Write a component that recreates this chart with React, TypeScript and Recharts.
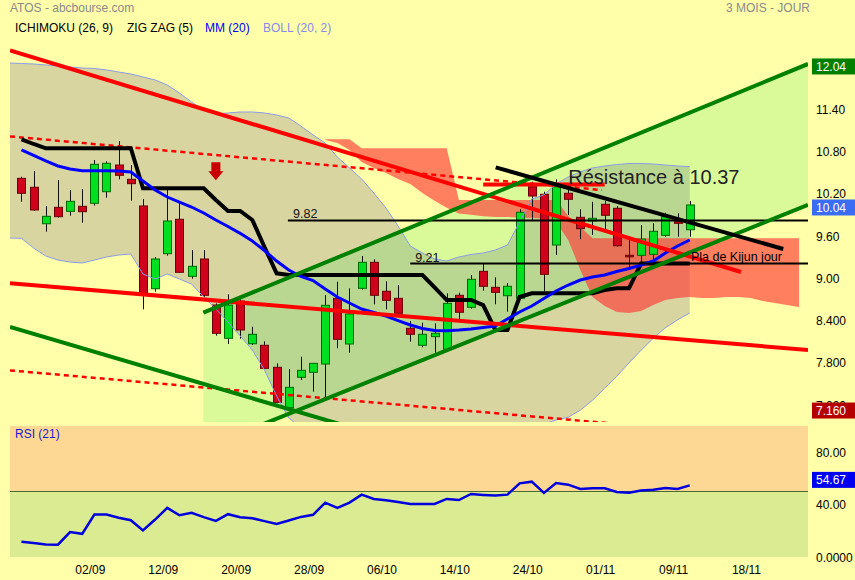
import React from 'react';
import {
  ComposedChart,
  Bar,
  Line,
  Area,
  XAxis,
  YAxis,
  ReferenceLine,
  ReferenceDot,
  ReferenceArea,
} from 'recharts';

const FONT = '"Liberation Sans", Arial, sans-serif';
const BG = '#FFFFAA';

// daily candles, index 0 = 25/08
const OPEN = [
  10.418, 10.291, 9.774, 10.007, 9.95, 10.021, 10.064, 10.228, 10.607, 10.404,
  10.026, 8.852, 9.349, 9.837, 9.028, 9.274, 8.621, 8.149, 8.678, 8.072,
  8.05, 7.738, 7.165, 7.596, 7.667, 7.784, 8.716, 8.068, 8.858, 9.227,
  8.816, 8.716, 8.291, 8.05, 8.172, 7.993, 8.759, 8.589, 9.099, 8.872,
  8.753, 8.716, 10.299, 10.191, 9.472, 10.206, 9.865, 9.813, 10.05, 9.993,
  9.326, 9.326, 9.34, 9.61, 9.803, 9.689,
];
const CLOSE = [
  10.206, 9.969, 9.879, 9.874, 10.092, 9.945, 10.617, 10.631, 10.461, 10.342,
  8.787, 9.274, 9.813, 9.085, 9.17, 8.759, 8.22, 8.621, 8.267, 8.206,
  7.723, 7.241, 7.454, 7.695, 7.794, 8.617, 8.135, 8.494, 9.227, 8.759,
  8.688, 8.504, 8.206, 8.206, 8.22, 8.645, 8.518, 8.986, 8.887, 8.801,
  8.887, 9.936, 10.167, 9.057, 10.299, 10.121, 9.704, 9.851, 9.894, 9.462,
  9.306, 9.557, 9.667, 9.874, 9.78, 10.04,
];
const HIGH = [
  10.441, 10.522, 10.026, 10.394, 10.252, 10.267, 10.678, 10.66, 10.947, 10.607,
  10.125, 9.302, 10.252, 10.072, 9.401, 9.401, 8.645, 8.773, 8.702, 8.313,
  8.106, 7.794, 7.713, 7.888, 7.8, 8.763, 8.952, 8.858, 9.316, 9.269,
  8.957, 8.905, 8.394, 8.37, 8.362, 8.787, 8.796, 9.047, 9.213, 9.014,
  8.933, 9.98, 10.37, 10.228, 10.404, 10.262, 9.979, 10.086, 10.096, 10.026,
  9.543, 9.756, 9.78, 9.93, 9.922, 10.096,
];
const LOW = [
  10.086, 9.955, 9.661, 9.86, 9.888, 9.789, 10.03, 10.143, 10.404, 10.101,
  8.56, 8.81, 9.321, 9.08, 8.994, 8.739, 8.186, 8.068, 8.143, 8.054,
  7.72, 7.227, 7.132, 7.557, 7.392, 7.298, 8.007, 7.945, 8.84, 8.631,
  8.56, 8.479, 8.101, 8.021, 7.945, 7.98, 8.409, 8.57, 8.824, 8.631,
  8.526, 8.7, 9.827, 8.81, 9.33, 9.898, 9.553, 9.614, 9.685, 9.45,
  9.118, 9.213, 9.213, 9.59, 9.59, 9.59,
];

const KIJUN = [
  10.972, 10.905, 10.844, 10.844, 10.844, 10.844, 10.844, 10.844, 10.844, 10.844,
  10.277, 10.277, 10.277, 10.277, 10.277, 10.277, 10.111, 9.955, 9.955, 9.827,
  9.444, 9.071, 9.047, 9.047, 9.047, 9.047, 9.047, 9.047, 9.047, 9.047,
  9.047, 9.047, 9.047, 9.047, 8.87, 8.692, 8.692, 8.692, 8.621, 8.267,
  8.267, 8.735, 8.787, 8.787, 8.787, 8.787, 8.787, 8.787, 8.834, 8.858,
  8.858, 9.21, 9.21, 9.21, 9.21, 9.21,
];
const MM20 = [
  10.82, 10.742, 10.664, 10.593, 10.55, 10.526, 10.526, 10.526, 10.522, 10.508,
  10.38, 10.252, 10.153, 10.082, 10.011, 9.926, 9.827, 9.735, 9.638, 9.529,
  9.394, 9.245, 9.118, 9.026, 8.969, 8.848, 8.735, 8.65, 8.565, 8.515,
  8.465, 8.401, 8.338, 8.288, 8.26, 8.257, 8.267, 8.281, 8.302, 8.323,
  8.423, 8.522, 8.607, 8.713, 8.82, 8.905, 8.976, 9.018, 9.047, 9.096,
  9.139, 9.189, 9.245, 9.359, 9.458, 9.543,
];
// bollinger bands start one day before the first candle
const BOLL_UP = [
  12.054, 12.047, 12.04, 12.026, 12.011, 11.997, 11.983, 11.976, 11.955, 11.926, 11.898,
  11.855, 11.813, 11.742, 11.628, 11.501, 11.387, 11.33, 11.345, 11.359, 11.359,
  11.345, 11.316, 11.274, 11.16, 11.033, 10.919, 10.72, 10.565, 10.409, 10.21,
  9.997, 9.742, 9.458, 9.359, 9.274, 9.245, 9.302, 9.338, 9.359, 9.401,
  9.472, 9.799, 10.125, 10.182, 10.338, 10.437, 10.508, 10.565, 10.593, 10.614,
  10.628, 10.628, 10.621, 10.607, 10.593, 10.583,
];
const BOLL_LO = [
  9.571, 9.567, 9.43, 9.316, 9.259, 9.231, 9.217, 9.259, 9.302, 9.33, 9.345,
  9.061, 8.99, 9.061, 8.99, 8.919, 8.735, 8.565, 8.38, 8.182, 7.983,
  7.7, 7.331, 7.019, 6.88, 6.85, 6.87, 6.9, 6.92, 6.92, 6.91,
  6.9, 6.89, 6.89, 6.88, 6.88, 6.87, 6.87, 6.86, 6.86, 6.86,
  6.87, 6.88, 6.9, 6.93, 6.99, 7.03, 7.13, 7.27, 7.44, 7.61,
  7.8, 7.98, 8.15, 8.3, 8.41, 8.508,
];
// ichimoku cloud, from day 25 to day 64
const CLOUD_START = 25;
const SENKOU_A = [
  10.962, 10.919, 10.82, 10.65, 10.565, 10.494, 10.409, 10.338, 10.21, 10.1,
  10.0, 9.92, 9.9, 9.88, 9.87, 9.87, 9.86, 9.86, 9.85, 9.8,
  9.543, 9.117, 8.735, 8.607, 8.522, 8.508, 8.536, 8.621, 8.692, 8.72,
  8.735, 8.72, 8.72, 8.735, 8.735, 8.72, 8.678, 8.649, 8.621, 8.593,
];
const SENKOU_B = [
  10.972, 10.972, 10.972, 10.844, 10.844, 10.844, 10.844, 10.844, 10.844, 10.844,
  10.844, 10.11, 10.11, 10.11, 10.11, 10.11, 10.11, 10.11, 10.11, 10.11,
  9.884, 9.728, 9.567, 9.567, 9.567, 9.567, 9.567, 9.567, 9.567, 9.567,
  9.567, 9.567, 9.567, 9.567, 9.567, 9.567, 9.567, 9.567, 9.567, 9.567,
];

const RSI = [
  11.7, 10.6, 9.6, 9.4, 19.0, 17.7, 32.4, 32.4, 29.9, 28.1,
  20.3, 28.6, 37.5, 31.9, 33.7, 30.4, 27.6, 32.7, 30.4, 29.6,
  27.4, 25.3, 27.9, 30.6, 32.2, 41.5, 37.5, 41.5, 47.6, 44.3,
  43.3, 42.0, 40.5, 40.5, 40.5, 44.3, 43.5, 48.1, 47.4, 46.9,
  47.6, 56.2, 57.5, 48.9, 56.5, 55.2, 51.9, 52.4, 52.4, 49.6,
  49.1, 50.7, 51.4, 52.7, 51.9, 54.67,
];

const X_LABELS = ['02/09', '12/09', '20/09', '28/09', '06/10', '14/10', '24/10', '01/11', '09/11', '18/11'];
const X_LABEL_IDX = [6, 12, 18, 24, 30, 36, 42, 48, 54, 60];

const PRICE_TICKS = [7.2, 7.8, 8.4, 9.0, 9.6, 10.2, 10.8, 11.4];
const PRICE_TICK_LABELS = ['7.200', '7.800', '8.400', '9.00', '9.60', '10.20', '10.80', '11.40'];
const PRICE_MARKERS = [
  { v: 12.04, label: '12.04', color: '#008000' },
  { v: 10.04, label: '10.04', color: '#3A6CF4' },
  { v: 7.16, label: '7.160', color: '#B40000' },
];
const RSI_TICKS = [0, 40, 80];
const RSI_TICK_LABELS = ['0.0000', '40.00', '80.00'];
const RSI_MARKER = { v: 54.67, label: '54.67', color: '#0000F0' };

// drawn lines: [day, price] end points
const RED_UP = [[-0.944, 12.231], [59.22, 9.089]];
const RED_LO = [[-0.944, 8.929], [64.735, 7.983]];
const RED_DASH_UP = [[-0.944, 11.013], [47.78, 10.252]];
const RED_DASH_LO = [[-0.944, 7.694], [50, 6.92]];
const GREEN_UP = [[14.965, 8.512], [64.735, 12.04]];
const GREEN_LO = [[14.965, 6.59], [64.735, 10.041]];
const GREEN_DOWN = [[-0.944, 8.309], [30, 6.74]];
const BLACK_RES = [[39.03, 10.574], [62.7, 9.416]];
const RES_LEVEL = [[38, 10.33], [48, 10.33]];
const H_982 = [[21.93, 9.82], [64.735, 9.82]];
const H_921 = [[32, 9.21], [64.735, 9.21]];

const X_MIN = -0.944;
const X_MAX = 64.735;

const rows: any[] = [];
for (let i = -1; i <= 64; i++) {
  const r: any = { i };
  if (i >= 0 && i < OPEN.length) {
    r.o = OPEN[i];
    r.c = CLOSE[i];
    r.h = HIGH[i];
    r.l = LOW[i];
    r.hl = [LOW[i], HIGH[i]];
    r.kijun = KIJUN[i];
    r.mm = MM20[i];
  }
  if (i + 1 < BOLL_UP.length) {
    r.bu = BOLL_UP[i + 1];
    r.bl = BOLL_LO[i + 1];
    r.boll = [BOLL_LO[i + 1], BOLL_UP[i + 1]];
  }
  const k = i - CLOUD_START;
  if (k >= 0 && k < SENKOU_A.length) {
    r.cloud = [Math.min(SENKOU_A[k], SENKOU_B[k]), Math.max(SENKOU_A[k], SENKOU_B[k])];
  }
  rows.push(r);
}

const channel = [
  { i: GREEN_UP[0][0], r: [GREEN_LO[0][1], GREEN_UP[0][1]] },
  { i: GREEN_UP[1][0], r: [GREEN_LO[1][1], GREEN_UP[1][1]] },
];

const rsiRows = RSI.map((v, i) => ({ i, rsi: v }));

const seg = (p: number[][]) => [
  { x: p[0][0], y: p[0][1] },
  { x: p[1][0], y: p[1][1] },
];

const Candle = (props: any) => {
  const { x, y, width, height, payload } = props;
  if (!payload || payload.o == null) return null;
  const { o, c, h, l } = payload;
  const top = Math.min(y, y + height);
  const bot = Math.max(y, y + height);
  const k = (bot - top) / (h - l || 1);
  const py = (v: number) => top + (h - v) * k;
  const cx = Math.round(x + width / 2) + 0.5;
  const up = c >= o;
  const bTop = py(Math.max(o, c));
  const bBot = py(Math.min(o, c));
  return (
    <g>
      <line x1={cx} x2={cx} y1={top} y2={bot} stroke="#111" strokeWidth={1} />
      <rect
        x={cx - 4}
        y={bTop}
        width={8}
        height={Math.max(1.5, bBot - bTop)}
        fill={up ? '#00E020' : '#D0021B'}
        stroke={up ? '#006A00' : '#6A0000'}
        strokeWidth={1}
      />
    </g>
  );
};

// value boxes sit a little below their level, as on the site
const Marker = ({ x, y, label, color }: any) => (
  <g>
    <rect x={x - 4} y={y - 5.5} width={47} height={16} fill={color} />
    <text x={x} y={y + 7} fill="#fff" fontSize={12} fontFamily={FONT}>{label}</text>
  </g>
);

const PriceTick = (props: any) => {
  const { x, y, payload } = props;
  const v = payload.value;
  const m = PRICE_MARKERS.find((mm) => mm.v === v);
  if (m) return <Marker x={x} y={y} label={m.label} color={m.color} />;
  return (
    <text x={x} y={y + 4.5} fill="#000" fontSize={12} fontFamily={FONT}>
      {PRICE_TICK_LABELS[PRICE_TICKS.indexOf(v)]}
    </text>
  );
};

const RsiTick = (props: any) => {
  const { x, y, payload } = props;
  const v = payload.value;
  if (v === RSI_MARKER.v) return <Marker x={x} y={y - 8} label={RSI_MARKER.label} color={RSI_MARKER.color} />;
  return (
    <text x={x} y={y + 4.5} fill="#000" fontSize={12} fontFamily={FONT}>
      {RSI_TICK_LABELS[RSI_TICKS.indexOf(v)]}
    </text>
  );
};

const XTick = (props: any) => {
  const { x, y, payload } = props;
  const k = X_LABEL_IDX.indexOf(payload.value);
  return (
    <text x={x - 4} y={y + 9} textAnchor="middle" fill="#000" fontSize={12} fontFamily={FONT}>
      {X_LABELS[k]}
    </text>
  );
};

const note = (txt: string, size: number, dy: number, color = '#111') => (p: any) =>
  (
    <text x={p.cx} y={p.cy + dy} fontSize={size} fontFamily={FONT} fill={color}>
      {txt}
    </text>
  );

const Arrow = (p: any) => {
  const { cx, cy } = p;
  return (
    <polygon
      points={`${cx - 4.5},${cy - 9} ${cx + 4.5},${cy - 9} ${cx + 4.5},${cy} ${cx + 7.5},${cy} ${cx},${cy + 9} ${cx - 7.5},${cy} ${cx - 4.5},${cy}`}
      fill="#C80000"
    />
  );
};

export default function App() {
  const label = { position: 'absolute' as const, fontFamily: FONT, fontSize: 12, lineHeight: '14px', whiteSpace: 'nowrap' as const };
  return (
    <div style={{ position: 'absolute', left: 0, top: 0, width: 855, height: 580, background: BG, overflow: 'hidden' }}>
      <div style={{ ...label, left: 10, top: 1, color: '#8A8A8A' }}>ATOS - abcbourse.com</div>
      <div style={{ ...label, left: 726, top: 1, color: '#8A8A8A' }}>3 MOIS - JOUR</div>
      <div style={{ ...label, left: 15, top: 21, color: '#000' }}>ICHIMOKU (26, 9)</div>
      <div style={{ ...label, left: 127, top: 21, color: '#000' }}>ZIG ZAG (5)</div>
      <div style={{ ...label, left: 205, top: 21, color: '#0000FF' }}>MM (20)</div>
      <div style={{ ...label, left: 263, top: 21, color: '#8A8AE8' }}>BOLL (20, 2)</div>

      <div style={{ position: 'absolute', left: 0, top: 0 }}>
        <ComposedChart width={855} height={425} data={rows} margin={{ top: 45, right: 0, bottom: 3, left: 10 }}>
          <XAxis type="number" dataKey="i" domain={[X_MIN, X_MAX]} allowDataOverflow hide />
          <YAxis
            orientation="right"
            width={47}
            domain={[6.962, 12.309]}
            allowDataOverflow
            ticks={[...PRICE_TICKS, ...PRICE_MARKERS.map((m) => m.v)]}
            interval={0}
            axisLine={false}
            tickLine={false}
            tick={<PriceTick />}
          />
          <Area dataKey="boll" type="linear" stroke="none" fill="#D8D5A0" fillOpacity={1} isAnimationActive={false} />
          <Line dataKey="bu" type="linear" stroke="#8C9BE6" strokeWidth={1} dot={false} isAnimationActive={false} />
          <Line dataKey="bl" type="linear" stroke="#8C9BE6" strokeWidth={1} dot={false} isAnimationActive={false} />
          <ReferenceLine segment={seg(RED_DASH_UP)} stroke="#FF0000" strokeWidth={2.5} strokeDasharray="5 4" ifOverflow="hidden" />
          <ReferenceLine segment={seg(RED_DASH_LO)} stroke="#FF0000" strokeWidth={2.5} strokeDasharray="5 4" ifOverflow="hidden" />
          <Bar dataKey="hl" barSize={8} shape={<Candle />} isAnimationActive={false} />
          <Line dataKey="kijun" type="linear" stroke="#000" strokeWidth={4} dot={false} isAnimationActive={false} />
          <Line dataKey="mm" type="linear" stroke="#0000FF" strokeWidth={3} dot={false} isAnimationActive={false} />
          <ReferenceLine segment={seg(RED_UP)} stroke="#FF0000" strokeWidth={4} ifOverflow="hidden" />
          <ReferenceLine segment={seg(RED_LO)} stroke="#FF0000" strokeWidth={4} ifOverflow="hidden" />
          <ReferenceLine segment={seg(RES_LEVEL)} stroke="#FF0000" strokeWidth={4} ifOverflow="hidden" />
          <Area data={channel} dataKey="r" type="linear" stroke="none" fill="rgb(50,228,81)" fillOpacity={0.18} isAnimationActive={false} />
          <Area dataKey="cloud" type="linear" stroke="none" fill="rgb(255,58,55)" fillOpacity={0.65} isAnimationActive={false} />
          <ReferenceLine segment={seg(H_982)} stroke="#000" strokeWidth={2} ifOverflow="hidden" />
          <ReferenceLine segment={seg(H_921)} stroke="#000" strokeWidth={2} ifOverflow="hidden" />
          <ReferenceLine segment={seg(GREEN_UP)} stroke="#008000" strokeWidth={4} ifOverflow="hidden" />
          <ReferenceLine segment={seg(GREEN_LO)} stroke="#008000" strokeWidth={4} ifOverflow="hidden" />
          <ReferenceLine segment={seg(GREEN_DOWN)} stroke="#008000" strokeWidth={4} ifOverflow="hidden" />
          <ReferenceLine segment={seg(BLACK_RES)} stroke="#000" strokeWidth={4} ifOverflow="hidden" />
          <ReferenceDot x={16} y={10.52} r={0} shape={Arrow} />
          <ReferenceDot x={22.35} y={9.82} r={0} shape={note('9.82', 12.5, -2)} />
          <ReferenceDot x={32.4} y={9.21} r={0} shape={note('9.21', 12.5, -2)} />
          <ReferenceDot x={45.0} y={10.37} r={0} shape={note('Résistance à 10.37', 20, 2, '#222')} />
          <ReferenceDot x={55.1} y={9.21} r={0} shape={note('Pla de Kijun jour', 12.5, -3, '#000')} />
        </ComposedChart>
      </div>

      <div style={{ position: 'absolute', left: 0, top: 420 }}>
        <ComposedChart width={855} height={160} data={rsiRows} margin={{ top: 6, right: 0, bottom: 0, left: 10 }}>
          <XAxis
            type="number"
            dataKey="i"
            domain={[X_MIN, X_MAX]}
            allowDataOverflow
            ticks={X_LABEL_IDX}
            interval={0}
            height={23}
            axisLine={false}
            tickLine={false}
            tick={<XTick />}
          />
          <YAxis
            orientation="right"
            width={47}
            domain={[0, 100]}
            allowDataOverflow
            ticks={[...RSI_TICKS, RSI_MARKER.v]}
            interval={0}
            axisLine={false}
            tickLine={false}
            tick={<RsiTick />}
          />
          <ReferenceArea y1={50} y2={100} fill="#FDD894" fillOpacity={1} stroke="none" />
          <ReferenceArea y1={0} y2={50} fill="#DAEB92" fillOpacity={1} stroke="none" />
          <ReferenceLine y={50} stroke="#4B6A2E" strokeWidth={1} />
          <Line dataKey="rsi" type="linear" stroke="#0000DD" strokeWidth={2.5} dot={false} isAnimationActive={false} />
        </ComposedChart>
      </div>
      <div style={{ ...label, left: 15, top: 427, color: '#1A1AD0' }}>RSI (21)</div>
    </div>
  );
}
